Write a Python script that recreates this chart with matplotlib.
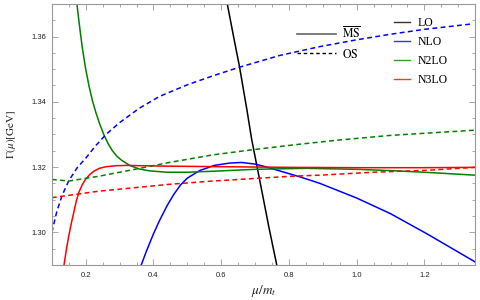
import numpy as np
import matplotlib.pyplot as plt
from matplotlib.ticker import MultipleLocator
from matplotlib.lines import Line2D

# values (x = mu/m_t, y = Gamma in GeV)
lo_x = [0.618, 0.636, 0.654, 0.676, 0.690, 0.719, 0.740, 0.764]
lo_y = [1.370, 1.3603, 1.3508, 1.3375, 1.3285, 1.3132, 1.3020, 1.290]

nlo_x = [0.364, 0.380, 0.400, 0.417, 0.441, 0.460, 0.480, 0.500, 0.536, 0.580, 0.624,
         0.660, 0.700, 0.734, 0.773, 0.832, 0.891, 1.000, 1.100, 1.208, 1.350]
nlo_y = [1.2900, 1.2944, 1.2995, 1.3034, 1.3083, 1.3116, 1.3145, 1.3166, 1.3189, 1.3205, 1.3212,
         1.3214, 1.3209, 1.3200, 1.3188, 1.3170, 1.3150, 1.3105, 1.3057, 1.2995, 1.2909]

n2lo_x = [0.174, 0.182, 0.190, 0.200, 0.210, 0.220, 0.230, 0.242, 0.254, 0.266, 0.278,
          0.292, 0.307, 0.330, 0.358, 0.390, 0.441, 0.500, 0.574, 0.700, 0.850, 1.000,
          1.100, 1.200, 1.350]
n2lo_y = [1.3700, 1.3630, 1.3565, 1.3500, 1.3447, 1.3403, 1.3367, 1.3330, 1.3298, 1.3272, 1.3251,
          1.3233, 1.3220, 1.3205, 1.3194, 1.3188, 1.3184, 1.3184, 1.3187, 1.3193, 1.3196, 1.3193,
          1.3189, 1.3184, 1.3175]

n3lo_x = [0.136, 0.143, 0.150, 0.158, 0.165, 0.172, 0.180, 0.190, 0.200, 0.212, 0.224,
          0.240, 0.260, 0.290, 0.319, 0.417, 0.600, 0.800, 1.000, 1.200, 1.350]
n3lo_y = [1.2900, 1.2948, 1.2989, 1.3030, 1.3062, 1.3095, 1.3123, 1.3146, 1.3163, 1.3177, 1.3187,
          1.3196, 1.3201, 1.3204, 1.3205, 1.3203, 1.3201, 1.3199, 1.3198, 1.3198, 1.3199]

nlo_os_x = [0.100, 0.115, 0.130, 0.150, 0.175, 0.200, 0.230, 0.260, 0.300, 0.358, 0.417,
            0.500, 0.574, 0.654, 0.773, 0.891, 1.000, 1.100, 1.200, 1.344]
nlo_os_y = [1.3000, 1.3065, 1.3112, 1.3158, 1.3198, 1.3227, 1.3266, 1.3300, 1.3336, 1.3380, 1.3416,
            1.3452, 1.3479, 1.3506, 1.3542, 1.3569, 1.3590, 1.3607, 1.3622, 1.3639]

n2lo_os_x = [0.100, 0.150, 0.240, 0.330, 0.447, 0.574, 0.700, 0.832, 0.950, 1.100, 1.350]
n2lo_os_y = [1.3162, 1.3157, 1.3172, 1.3190, 1.3214, 1.3237, 1.3254, 1.3270, 1.3283, 1.3297, 1.3313]

n3lo_os_x = [0.100, 0.239, 0.447, 0.574, 0.811, 0.891, 1.048, 1.208, 1.350]
n3lo_os_y = [1.3106, 1.3126, 1.3147, 1.3157, 1.3172, 1.3175, 1.3184, 1.3190, 1.3199]

plt.rcParams['mathtext.fontset'] = 'stix'

fig = plt.figure(figsize=(4.8, 3.0), dpi=100)
ax = fig.add_axes([0.108, 0.117, 0.882, 0.870])

green = '#008000'
lw = 1.1
dash = (0, (3.2, 2.2))

ax.plot(lo_x, lo_y, color='black', lw=lw)
ax.plot(nlo_x, nlo_y, color='blue', lw=lw)
ax.plot(n2lo_x, n2lo_y, color=green, lw=lw)
ax.plot(n3lo_x, n3lo_y, color='red', lw=lw)
ax.plot(nlo_os_x, nlo_os_y, color='blue', lw=lw, ls=dash)
ax.plot(n2lo_os_x, n2lo_os_y, color=green, lw=lw, ls=dash)
ax.plot(n3lo_os_x, n3lo_os_y, color='red', lw=lw, ls=dash)

ax.set_xlim(0.1, 1.35)
ax.set_ylim(1.29, 1.37)
ax.xaxis.set_major_locator(MultipleLocator(0.2))
ax.xaxis.set_minor_locator(MultipleLocator(0.05))
ax.yaxis.set_major_locator(MultipleLocator(0.02))
ax.yaxis.set_minor_locator(MultipleLocator(0.005))
ax.xaxis.set_major_formatter(plt.FuncFormatter(lambda v, p: f'{v:.1f}'))
ax.yaxis.set_major_formatter(plt.FuncFormatter(lambda v, p: f'{v:.2f}'))

frame = '#999999'
for s in ax.spines.values():
    s.set_color(frame)
    s.set_linewidth(0.8)
ax.tick_params(which='both', direction='in', top=True, right=True, color=frame,
               width=0.6, labelsize=5.5, labelcolor='#222222')
ax.tick_params(axis='x', pad=5)
ax.tick_params(axis='y', pad=4)
ax.tick_params(which='major', length=4)
ax.tick_params(which='minor', length=2.2)
for lab in ax.get_xticklabels() + ax.get_yticklabels():
    lab.set_family('Liberation Sans')

ax.set_xlabel(r'$\mu/m_t$', fontsize=9.5, labelpad=3, color='#222222')
ax.set_ylabel(r'$\Gamma(\mu)[\mathrm{GeV}]$', fontsize=8, labelpad=10, color='#222222')

scheme = [Line2D([], [], color='#666666', lw=1.2),
          Line2D([], [], color='black', lw=1.0, ls=(0, (2.5, 2)))]
leg1 = ax.legend(scheme, [r'$\overline{\mathrm{MS}}$', r'$\mathrm{OS}$'],
                 loc='upper left', bbox_to_anchor=(0.555, 0.958), frameon=False,
                 fontsize=8.5, handlelength=3.3, handletextpad=0.5, labelspacing=0.55)
ax.add_artist(leg1)

orders = [Line2D([], [], color=c, lw=1.0, alpha=0.8) for c in ['black', 'blue', green, 'red']]
ax.legend(orders, ['LO', 'NLO', 'N2LO', 'N3LO'], loc='upper left',
          bbox_to_anchor=(0.782, 0.99), frameon=False,
          prop={'family': 'Liberation Serif', 'size': 8.5},
          handlelength=1.4, handletextpad=0.6, labelspacing=0.6)

fig.savefig('out.png', dpi=100)
